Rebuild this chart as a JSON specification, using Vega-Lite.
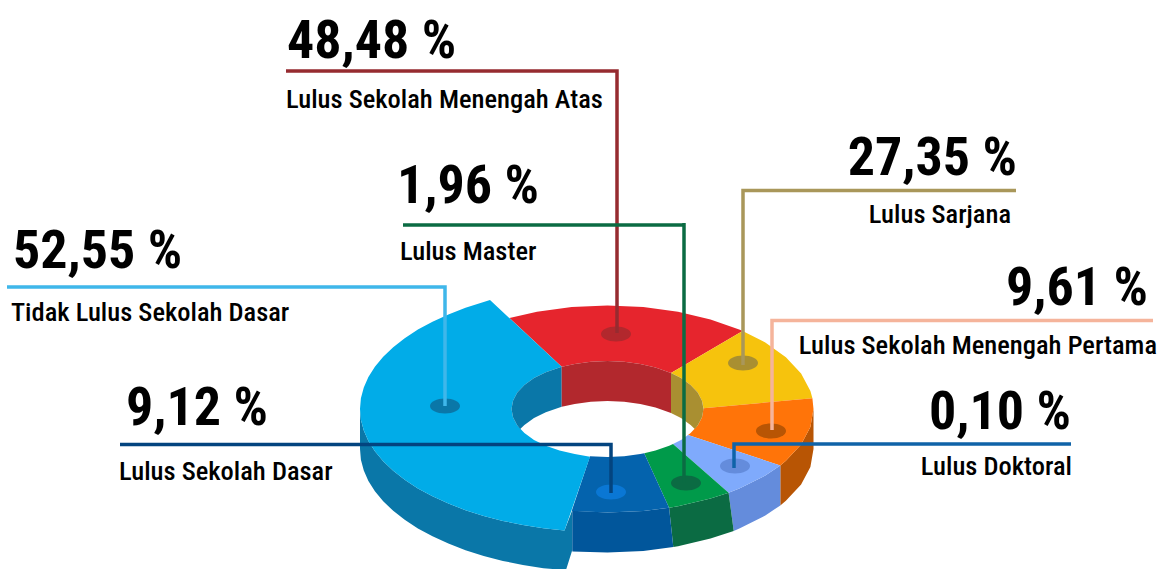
{"$schema":"https://vega.github.io/schema/vega-lite/v6.json","width":1170,"height":569,"autosize":{"type":"fit","contains":"padding"},"padding":0,"background":"white","config":{"view":{"stroke":null}},
"datasets":{
"poly":[
{"part":"cyanwall","x":360,"y":409},{"part":"cyanwall","x":360.9,"y":419.8},{"part":"cyanwall","x":363.8,"y":430.4},{"part":"cyanwall","x":368.4,"y":441},{"part":"cyanwall","x":374.9,"y":451.2},{"part":"cyanwall","x":383.2,"y":461.2},{"part":"cyanwall","x":393.2,"y":470.8},{"part":"cyanwall","x":404.7,"y":479.8},{"part":"cyanwall","x":417.9,"y":488.4},{"part":"cyanwall","x":432.5,"y":496.3},{"part":"cyanwall","x":448.4,"y":503.6},{"part":"cyanwall","x":465.5,"y":510.2},{"part":"cyanwall","x":483.7,"y":516},{"part":"cyanwall","x":502.9,"y":520.9},{"part":"cyanwall","x":522.9,"y":525},{"part":"cyanwall","x":543.4,"y":528.3},{"part":"cyanwall","x":564.5,"y":530.6},{"part":"cyanwall","x":572.3,"y":510},{"part":"cyanwall","x":572.3,"y":550},{"part":"cyanwall","x":566,"y":570},{"part":"cyanwall","x":543.4,"y":568.3},{"part":"cyanwall","x":522.9,"y":565},{"part":"cyanwall","x":502.9,"y":560.9},{"part":"cyanwall","x":483.7,"y":556},{"part":"cyanwall","x":465.5,"y":550.2},{"part":"cyanwall","x":448.4,"y":543.6},{"part":"cyanwall","x":432.5,"y":536.3},{"part":"cyanwall","x":417.9,"y":528.4},{"part":"cyanwall","x":404.7,"y":519.8},{"part":"cyanwall","x":393.2,"y":510.8},{"part":"cyanwall","x":383.2,"y":501.2},{"part":"cyanwall","x":374.9,"y":491.2},{"part":"cyanwall","x":368.4,"y":481},{"part":"cyanwall","x":363.8,"y":470.4},{"part":"cyanwall","x":360.9,"y":459.8},{"part":"cyanwall","x":360,"y":449},
{"part":"orangewall","x":813.5,"y":409},{"part":"orangewall","x":810.4,"y":427},{"part":"orangewall","x":801.1,"y":444.4},{"part":"orangewall","x":785.9,"y":460.8},{"part":"orangewall","x":780.3,"y":465.4},{"part":"orangewall","x":780.3,"y":505.4},{"part":"orangewall","x":785.9,"y":500.8},{"part":"orangewall","x":801.1,"y":484.4},{"part":"orangewall","x":810.4,"y":467},{"part":"orangewall","x":813.5,"y":449},
{"part":"lightwall","x":780.3,"y":465.4},{"part":"lightwall","x":765.3,"y":475.5},{"part":"lightwall","x":739.9,"y":488.3},{"part":"lightwall","x":728.6,"y":492.7},{"part":"lightwall","x":733.7,"y":531},{"part":"lightwall","x":739.9,"y":528.3},{"part":"lightwall","x":765.3,"y":515.5},{"part":"lightwall","x":780.3,"y":505.4},
{"part":"greenwall","x":728.6,"y":492.7},{"part":"greenwall","x":710.5,"y":498.6},{"part":"greenwall","x":678,"y":506.3},{"part":"greenwall","x":669.1,"y":507.8},{"part":"greenwall","x":673.3,"y":547},{"part":"greenwall","x":678,"y":546.3},{"part":"greenwall","x":710.5,"y":538.6},{"part":"greenwall","x":733.7,"y":531},
{"part":"bluewall","x":669.1,"y":507.8},{"part":"bluewall","x":643.3,"y":510.9},{"part":"bluewall","x":607.5,"y":512.5},{"part":"bluewall","x":572.3,"y":510.8},{"part":"bluewall","x":572.3,"y":551.5},{"part":"bluewall","x":607.5,"y":552.5},{"part":"bluewall","x":643.3,"y":550.9},{"part":"bluewall","x":673.3,"y":547},
{"part":"red","x":509.5,"y":318},{"part":"red","x":537,"y":311.7},{"part":"red","x":571.7,"y":307.1},{"part":"red","x":607.5,"y":305.5},{"part":"red","x":643.3,"y":307.1},{"part":"red","x":678,"y":311.7},{"part":"red","x":710.5,"y":319.4},{"part":"red","x":739.9,"y":329.7},{"part":"red","x":742.6,"y":330.9},{"part":"red","x":671,"y":372.9},{"part":"red","x":655.5,"y":367.4},{"part":"red","x":640.3,"y":363.9},{"part":"red","x":624.2,"y":361.7},{"part":"red","x":607.5,"y":361},{"part":"red","x":590.8,"y":361.7},{"part":"red","x":574.7,"y":363.9},{"part":"red","x":561.7,"y":366.8},
{"part":"yellow","x":742.6,"y":330.9},{"part":"yellow","x":765.3,"y":342.5},{"part":"yellow","x":785.9,"y":357.2},{"part":"yellow","x":801.1,"y":373.6},{"part":"yellow","x":810.4,"y":391},{"part":"yellow","x":812.4,"y":398.2},{"part":"yellow","x":703.5,"y":408.2},{"part":"yellow","x":702,"y":400.7},{"part":"yellow","x":697.7,"y":392.6},{"part":"yellow","x":690.6,"y":385},{"part":"yellow","x":681,"y":378.1},{"part":"yellow","x":671,"y":372.9},
{"part":"orange","x":812.4,"y":398.2},{"part":"orange","x":813.5,"y":409},{"part":"orange","x":810.4,"y":427},{"part":"orange","x":801.1,"y":444.4},{"part":"orange","x":785.9,"y":460.8},{"part":"orange","x":780.3,"y":465.4},{"part":"orange","x":688,"y":435.1},{"part":"orange","x":690.6,"y":433},{"part":"orange","x":697.7,"y":425.4},{"part":"orange","x":702,"y":417.3},{"part":"orange","x":703.5,"y":408.2},
{"part":"light","x":780.3,"y":465.4},{"part":"light","x":765.3,"y":475.5},{"part":"light","x":739.9,"y":488.3},{"part":"light","x":728.6,"y":492.7},{"part":"light","x":673,"y":444.1},{"part":"light","x":681,"y":439.9},{"part":"light","x":688,"y":435.1},
{"part":"green","x":728.6,"y":492.7},{"part":"green","x":710.5,"y":498.6},{"part":"green","x":678,"y":506.3},{"part":"green","x":669.1,"y":507.8},{"part":"green","x":644.2,"y":453.3},{"part":"green","x":655.5,"y":450.6},{"part":"green","x":669.2,"y":445.8},{"part":"green","x":673,"y":444.1},
{"part":"blue","x":669.1,"y":507.8},{"part":"blue","x":643.3,"y":510.9},{"part":"blue","x":607.5,"y":512.5},{"part":"blue","x":571.7,"y":510.9},{"part":"blue","x":590,"y":456.2},{"part":"blue","x":607.5,"y":457},{"part":"blue","x":624.2,"y":456.3},{"part":"blue","x":640.3,"y":454.1},{"part":"blue","x":644.2,"y":453.3},
{"part":"cyan","x":590,"y":456.7},{"part":"cyan","x":574.7,"y":454.1},{"part":"cyan","x":559.5,"y":450.6},{"part":"cyan","x":545.8,"y":445.8},{"part":"cyan","x":534,"y":439.9},{"part":"cyan","x":524.4,"y":433},{"part":"cyan","x":517.3,"y":425.4},{"part":"cyan","x":513,"y":417.3},{"part":"cyan","x":511.5,"y":409},{"part":"cyan","x":513,"y":400.7},{"part":"cyan","x":517.3,"y":392.6},{"part":"cyan","x":524.4,"y":385},{"part":"cyan","x":534,"y":378.1},{"part":"cyan","x":545.8,"y":372.2},{"part":"cyan","x":559.5,"y":367.4},{"part":"cyan","x":561.7,"y":366.8},{"part":"cyan","x":490,"y":300},{"part":"cyan","x":483.7,"y":302},{"part":"cyan","x":465.5,"y":307.8},{"part":"cyan","x":448.4,"y":314.4},{"part":"cyan","x":432.5,"y":321.7},{"part":"cyan","x":417.9,"y":329.6},{"part":"cyan","x":404.7,"y":338.2},{"part":"cyan","x":393.2,"y":347.2},{"part":"cyan","x":383.2,"y":356.8},{"part":"cyan","x":374.9,"y":366.8},{"part":"cyan","x":368.4,"y":377},{"part":"cyan","x":363.8,"y":387.6},{"part":"cyan","x":360.9,"y":398.2},{"part":"cyan","x":360,"y":409},{"part":"cyan","x":360.9,"y":419.8},{"part":"cyan","x":363.8,"y":430.4},{"part":"cyan","x":368.4,"y":441},{"part":"cyan","x":374.9,"y":451.2},{"part":"cyan","x":383.2,"y":461.2},{"part":"cyan","x":393.2,"y":470.8},{"part":"cyan","x":404.7,"y":479.8},{"part":"cyan","x":417.9,"y":488.4},{"part":"cyan","x":432.5,"y":496.3},{"part":"cyan","x":448.4,"y":503.6},{"part":"cyan","x":465.5,"y":510.2},{"part":"cyan","x":483.7,"y":516},{"part":"cyan","x":502.9,"y":520.9},{"part":"cyan","x":522.9,"y":525},{"part":"cyan","x":543.4,"y":528.3},{"part":"cyan","x":564.5,"y":530.6},
{"part":"cyaninner","x":561.7,"y":366.8},{"part":"cyaninner","x":545.8,"y":372.2},{"part":"cyaninner","x":534,"y":378.1},{"part":"cyaninner","x":524.4,"y":385},{"part":"cyaninner","x":517.3,"y":392.6},{"part":"cyaninner","x":513,"y":400.7},{"part":"cyaninner","x":511.5,"y":409},{"part":"cyaninner","x":513,"y":417.3},{"part":"cyaninner","x":517.3,"y":425.4},{"part":"cyaninner","x":520.2,"y":429},{"part":"cyaninner","x":524.4,"y":425},{"part":"cyaninner","x":534,"y":418.1},{"part":"cyaninner","x":545.8,"y":412.2},{"part":"cyaninner","x":561.7,"y":406.8},
{"part":"redinner","x":561.7,"y":366.8},{"part":"redinner","x":574.7,"y":363.9},{"part":"redinner","x":590.8,"y":361.7},{"part":"redinner","x":607.5,"y":361},{"part":"redinner","x":624.2,"y":361.7},{"part":"redinner","x":640.3,"y":363.9},{"part":"redinner","x":655.5,"y":367.4},{"part":"redinner","x":671,"y":372.9},{"part":"redinner","x":671,"y":412.9},{"part":"redinner","x":655.5,"y":407.4},{"part":"redinner","x":640.3,"y":403.9},{"part":"redinner","x":624.2,"y":401.7},{"part":"redinner","x":607.5,"y":401},{"part":"redinner","x":590.8,"y":401.7},{"part":"redinner","x":574.7,"y":403.9},{"part":"redinner","x":561.7,"y":406.8},
{"part":"yellowinner","x":671,"y":372.9},{"part":"yellowinner","x":681,"y":378.1},{"part":"yellowinner","x":690.6,"y":385},{"part":"yellowinner","x":697.7,"y":392.6},{"part":"yellowinner","x":702,"y":400.7},{"part":"yellowinner","x":703.5,"y":409},{"part":"yellowinner","x":702,"y":417.3},{"part":"yellowinner","x":697.7,"y":425.4},{"part":"yellowinner","x":694.8,"y":429},{"part":"yellowinner","x":690.6,"y":425},{"part":"yellowinner","x":681,"y":418.1},{"part":"yellowinner","x":671,"y":412.9}
],
"dots":[{"s":"atas","x":616,"y":334},{"s":"tidak","x":445,"y":406},{"s":"master","x":686,"y":483},{"s":"dasar","x":611,"y":492},{"s":"sarjana","x":743,"y":363},{"s":"smp","x":771,"y":431},{"s":"doktor","x":735,"y":466}],
"leaders":[
{"s":"tidak","x":7,"y":287},{"s":"tidak","x":445,"y":287},{"s":"tidak","x":445,"y":406},
{"s":"atas","x":286,"y":71},{"s":"atas","x":617,"y":71},{"s":"atas","x":617,"y":333},
{"s":"sarjana","x":1016,"y":190.5},{"s":"sarjana","x":743,"y":190.5},{"s":"sarjana","x":743,"y":365},
{"s":"smp","x":1153,"y":320.5},{"s":"smp","x":772,"y":320.5},{"s":"smp","x":772,"y":430},
{"s":"doktor","x":1071,"y":444},{"s":"doktor","x":734,"y":444},{"s":"doktor","x":734,"y":468},
{"s":"masterv","x":684,"y":223},{"s":"masterv","x":684,"y":483},
{"s":"master","x":403,"y":225},{"s":"master","x":685,"y":225},
{"s":"dasar","x":120,"y":444.5},{"s":"dasar","x":611,"y":444.5},{"s":"dasar","x":611,"y":493}
],
"bigL":[{"t":"48,48 %","x":287,"y":58},{"t":"1,96 %","x":397,"y":203},{"t":"52,55 %","x":13,"y":268},{"t":"9,12 %","x":126,"y":425}],
"bigR":[{"t":"27,35 %","x":1017,"y":175},{"t":"9,61 %","x":1148,"y":305},{"t":"0,10 %","x":1071,"y":429}],
"smallL":[{"t":"Lulus Sekolah Menengah Atas","x":286,"y":108},{"t":"Lulus Master","x":400,"y":260},{"t":"Tidak Lulus Sekolah Dasar","x":11,"y":321},{"t":"Lulus Sekolah Dasar","x":119,"y":480}],
"smallR":[{"t":"Lulus Sarjana","x":1011,"y":223},{"t":"Lulus Sekolah Menengah Pertama","x":1157,"y":354},{"t":"Lulus Doktoral","x":1072,"y":475}]
},
"encoding":{"x":{"field":"x","type":"quantitative","axis":null,"scale":{"domain":[0,1170],"nice":false,"zero":false}},"y":{"field":"y","type":"quantitative","axis":null,"scale":{"domain":[569,0],"nice":false,"zero":false}}},
"layer":[
{"data":{"name":"poly"},"mark":{"type":"line","strokeWidth":0,"clip":true},"encoding":{"detail":{"field":"part"},"order":{"value":null},"fill":{"field":"part","type":"nominal","legend":null,"scale":{"domain":["cyanwall","orangewall","lightwall","greenwall","bluewall","red","yellow","orange","light","green","blue","cyan","cyaninner","redinner","yellowinner"],"range":["#0a77a8","#b85504","#648cdc","#0b6b43","#01569b","#e6252d","#f6c30d","#ff7409","#7faafc","#009a4a","#0463ad","#01ace8","#0a77a8","#b2282d","#a98f31"]}}}},
{"data":{"name":"dots"},"mark":{"type":"point","filled":true,"opacity":1,"size":900,"shape":"M -1 0 A 1 0.5 0 1 0 1 0 A 1 0.5 0 1 0 -1 0 Z"},"encoding":{"fill":{"field":"s","type":"nominal","legend":null,"scale":{"domain":["atas","tidak","master","dasar","sarjana","smp","doktor"],"range":["#b2282d","#0a77a8","#0b6b43","#0a77d4","#a98f31","#b85504","#648cdc"]}}}},
{"data":{"name":"leaders"},"mark":{"type":"line","strokeCap":"butt","strokeJoin":"miter"},"encoding":{"detail":{"field":"s"},"order":{"value":null},"stroke":{"field":"s","type":"nominal","legend":null,"scale":{"domain":["tidak","atas","sarjana","smp","doktor","master","masterv","dasar"],"range":["#3fb7ea","#962b30","#a9975a","#f5b49b","#0f63a8","#0b6b43","#0b6b43","#03447f"]}},"strokeWidth":{"field":"s","type":"nominal","legend":null,"scale":{"domain":["tidak","atas","sarjana","smp","doktor","master","masterv","dasar"],"range":[3.5,3.5,3.5,3.5,2.5,4.5,2.5,3.5]}}}},
{"data":{"name":"bigL"},"mark":{"type":"text","font":"Roboto Condensed, Roboto","fontWeight":"bold","fontSize":54,"align":"left","baseline":"alphabetic","color":"#000"},"encoding":{"text":{"field":"t"}}},
{"data":{"name":"bigR"},"mark":{"type":"text","font":"Roboto Condensed, Roboto","fontWeight":"bold","fontSize":54,"align":"right","baseline":"alphabetic","color":"#000"},"encoding":{"text":{"field":"t"}}},
{"data":{"name":"smallL"},"mark":{"type":"text","font":"Roboto Condensed, Roboto","fontWeight":500,"fontSize":26.5,"align":"left","baseline":"alphabetic","color":"#000"},"encoding":{"text":{"field":"t"}}},
{"data":{"name":"smallR"},"mark":{"type":"text","font":"Roboto Condensed, Roboto","fontWeight":500,"fontSize":26.5,"align":"right","baseline":"alphabetic","color":"#000"},"encoding":{"text":{"field":"t"}}}
],
"resolve":{"scale":{"fill":"independent","stroke":"independent","strokeWidth":"independent"}}
}
